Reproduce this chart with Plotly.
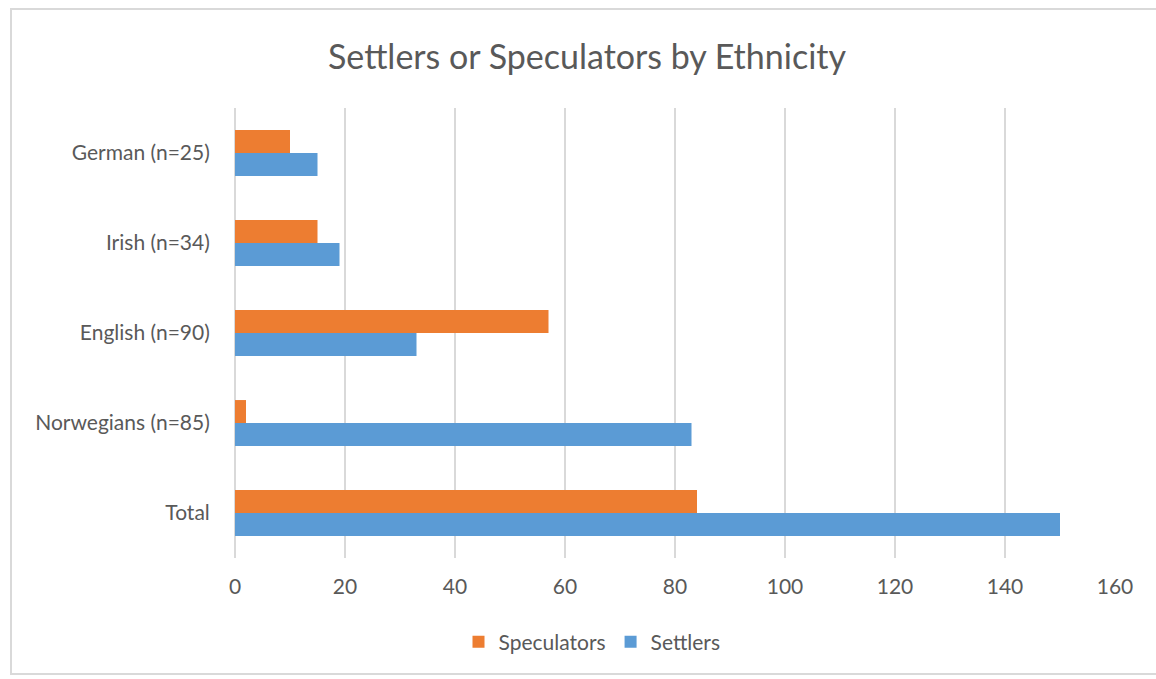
import plotly.graph_objects as go

categories = ["German (n=25)", "Irish (n=34)", "English (n=90)", "Norwegians (n=85)", "Total"]
speculators = [10, 15, 57, 2, 84]
settlers = [15, 19, 33, 83, 150]
x_ticks = [0, 20, 40, 60, 80, 100, 120, 140, 160]

ORANGE = "#ED7D31"
BLUE = "#5B9BD5"
TEXT = "#595959"
GRID = "#D9D9D9"
FONT = "Lato, 'Open Sans', sans-serif"

fig = go.Figure()
fig.add_trace(go.Bar(y=categories, x=settlers, name="Settlers", orientation="h",
                     marker=dict(color=BLUE, line=dict(width=0))))
fig.add_trace(go.Bar(y=categories, x=speculators, name="Speculators", orientation="h",
                     marker=dict(color=ORANGE, line=dict(width=0))))

L, R, T, B = 235, 41, 108, 121
W, H = 1156, 679
pw = W - L - R
ph = H - T - B

fig.update_layout(
    width=W, height=H,
    margin=dict(l=L, r=R, t=T, b=B),
    paper_bgcolor="white", plot_bgcolor="white",
    barmode="group", bargap=0.49, bargroupgap=0,
    font=dict(family=FONT, color=TEXT, size=21),
    title=dict(text="Settlers or Speculators by Ethnicity", x=587 / W, xref="container",
               xanchor="center", y=1 - 57 / H, yref="container", yanchor="middle",
               font=dict(size=34, color=TEXT, family=FONT)),
    legend=dict(orientation="h", traceorder="reversed", x=592 / W, xref="container",
                xanchor="center", y=1 - 642 / H, yref="container", yanchor="middle",
                font=dict(size=21, color=TEXT), itemwidth=30),
    xaxis=dict(range=[0, 160], tickvals=x_ticks, showgrid=True, gridcolor=GRID,
               gridwidth=1.5, zeroline=True, zerolinecolor=GRID, zerolinewidth=1.5,
               showline=False, ticks="outside", ticklen=10, tickcolor="rgba(0,0,0,0)",
               tickfont=dict(size=21, color=TEXT), fixedrange=True),
    yaxis=dict(categoryorder="array", categoryarray=categories[::-1], showgrid=False,
               showline=False, ticks="outside", ticklen=20, tickcolor="rgba(0,0,0,0)",
               tickfont=dict(size=21, color=TEXT), fixedrange=True),
    shapes=[dict(type="rect", xref="paper", yref="paper",
                 x0=(11 - L) / pw, x1=(W + 10 - L) / pw,
                 y0=(H - B - 674) / ph, y1=(H - B - 9) / ph,
                 line=dict(color=GRID, width=2), fillcolor="rgba(0,0,0,0)", layer="below")],
)

fig.write_html("out.html")
